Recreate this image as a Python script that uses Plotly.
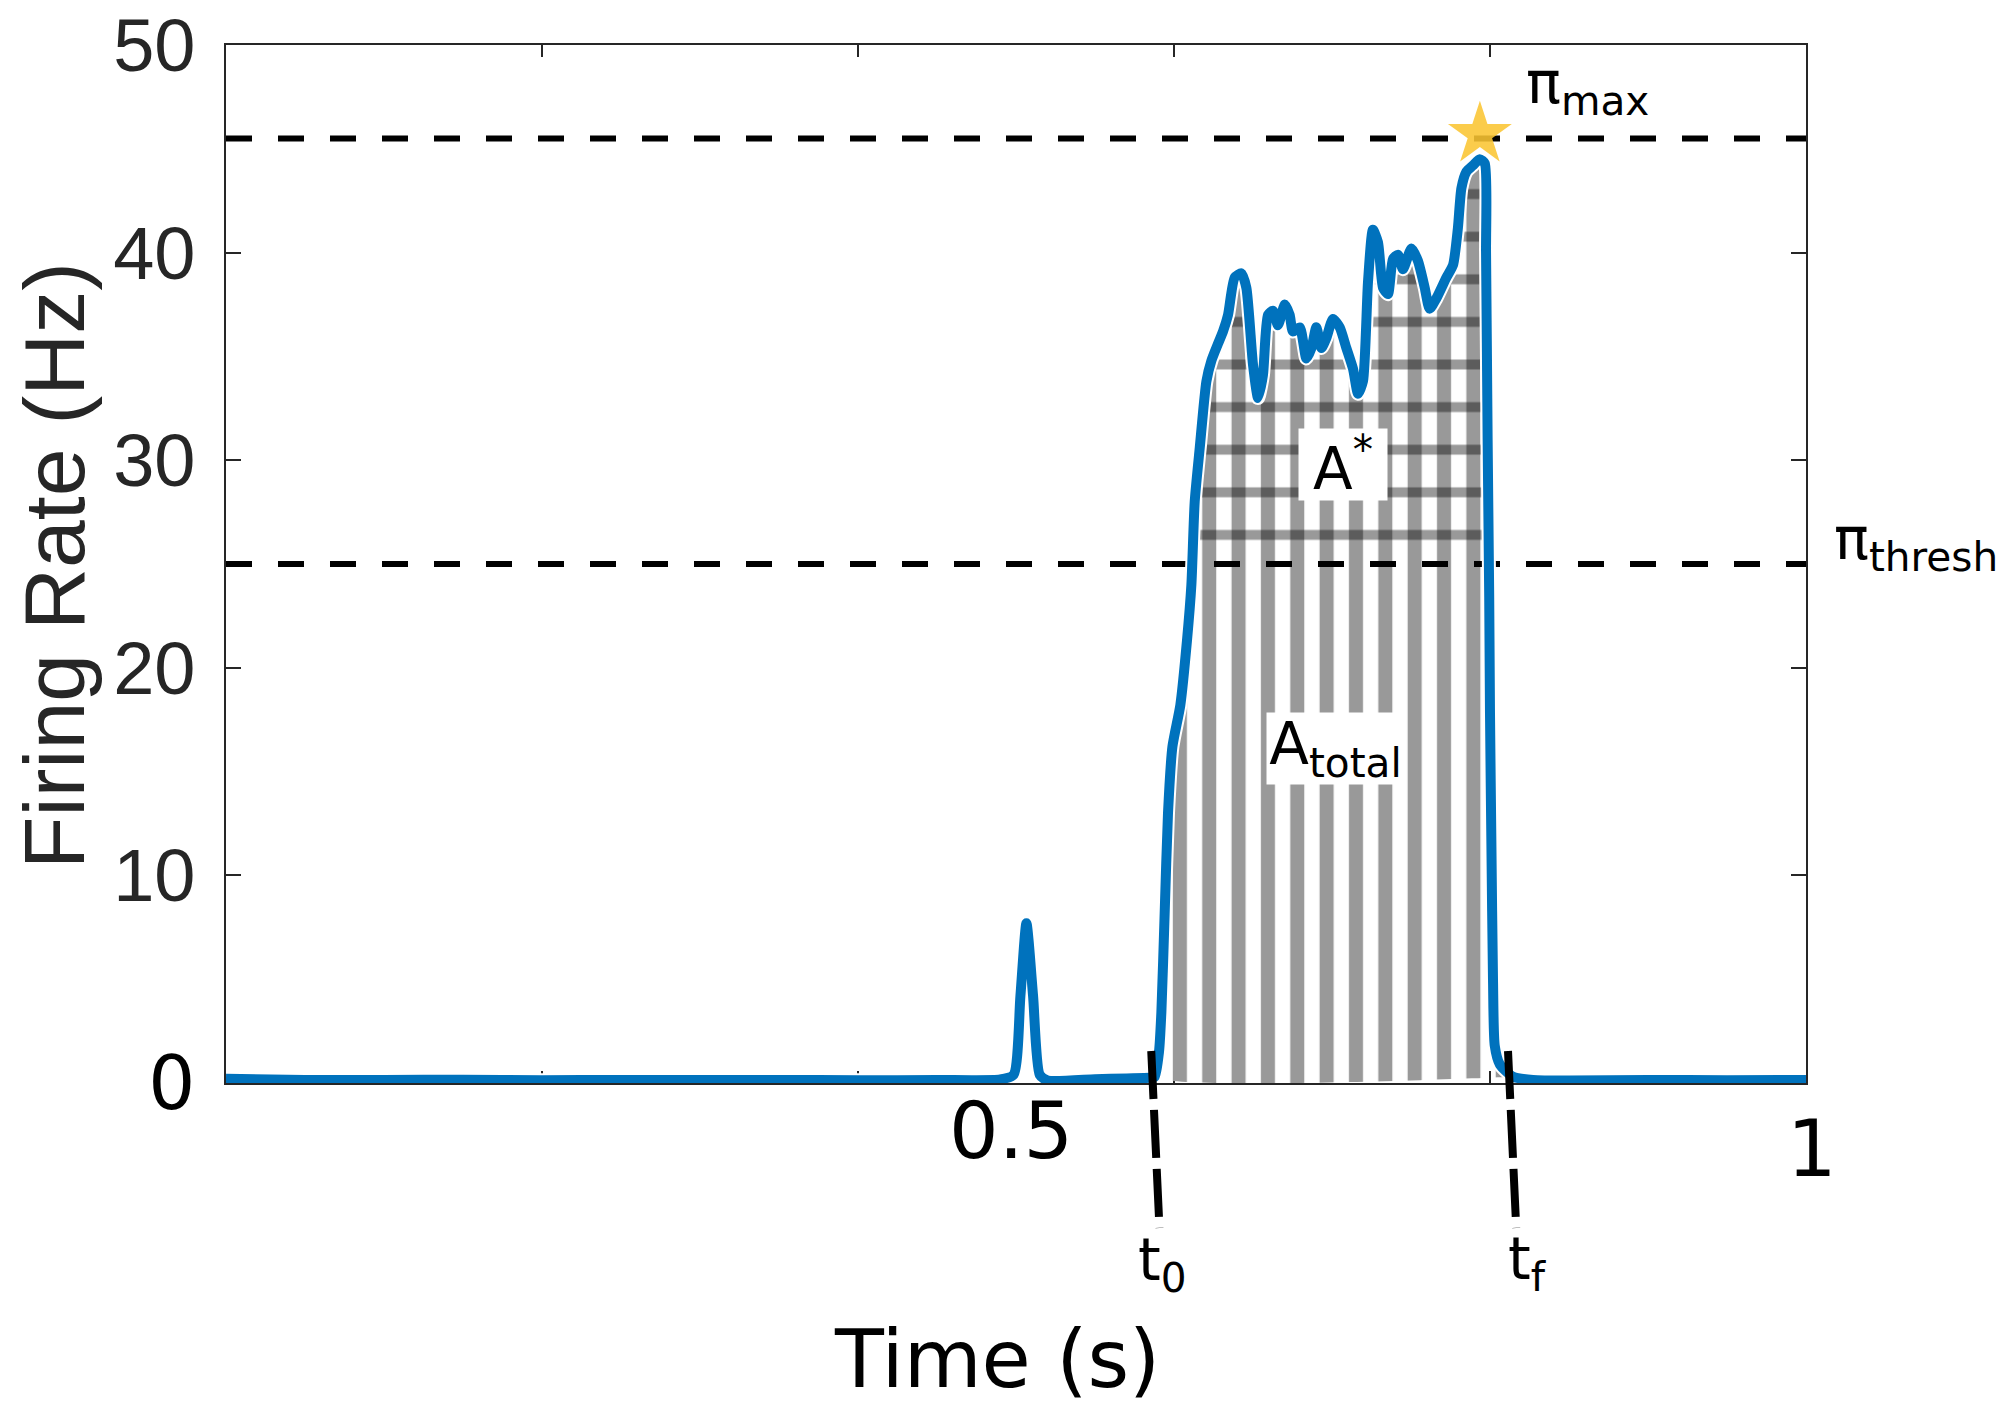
import numpy as np
import plotly.graph_objects as go

# ---------------- data ----------------
time_s = [0.000, 0.050, 0.100, 0.150, 0.200, 0.250, 0.300, 0.350, 0.400, 0.450,
          0.490, 0.4985, 0.5028, 0.5066, 0.5108, 0.5150, 0.5200, 0.5500, 0.5700,
          0.5846, 0.5878, 0.5905, 0.5920, 0.5941, 0.5962, 0.5990, 0.6040, 0.6082,
          0.6110, 0.6131, 0.6163, 0.6205, 0.6237, 0.6278, 0.6310, 0.6342, 0.6384,
          0.6427, 0.6458, 0.6500, 0.6532, 0.6563, 0.6595, 0.6627, 0.6658, 0.6701,
          0.6732, 0.6753, 0.6796, 0.6838, 0.6870, 0.6901, 0.6933, 0.6965, 0.7006,
          0.7049, 0.7091, 0.7133, 0.7165, 0.7196, 0.7228, 0.7259, 0.7291, 0.7323,
          0.7354, 0.7386, 0.7418, 0.7449, 0.7503, 0.7544, 0.7587, 0.7618, 0.7661,
          0.7724, 0.7766, 0.7797, 0.7819, 0.7851, 0.7892, 0.7935, 0.7967, 0.7975,
          0.7985, 0.7995, 0.8000, 0.8009, 0.8019, 0.8030, 0.8062, 0.8146, 0.8272,
          0.850, 0.900, 0.950, 1.000]
rate_hz = [0.20, 0.15, 0.14, 0.16, 0.13, 0.15, 0.14, 0.15, 0.13, 0.15,
           0.17, 0.4, 4.2, 7.7, 4.2, 0.4, 0.12, 0.18, 0.22,
           0.25, 0.3, 1.5, 3.4, 8.2, 13.0, 16.2, 18.2, 21.3,
           24.0, 28.0, 30.6, 33.8, 34.8, 35.6, 36.2, 37.0, 38.8,
           39.0, 38.3, 34.6, 33.0, 34.1, 37.0, 37.2, 36.5, 37.5,
           37.0, 36.2, 36.4, 34.9, 35.4, 36.4, 35.4, 35.9, 36.8,
           36.4, 35.4, 34.4, 33.2, 33.8, 38.6, 41.1, 40.5, 38.3,
           38.0, 39.7, 39.9, 39.2, 40.2, 39.6, 38.3, 37.3, 37.8,
           38.8, 39.4, 41.2, 43.1, 43.9, 44.2, 44.5, 44.3, 40.0,
           31.0, 23.4, 17.8, 11.4, 5.0, 1.8, 0.9, 0.3, 0.15,
           0.12, 0.15, 0.13, 0.15]

pi_max = 45.5
pi_thresh = 25.0
star_t = [0.7936]
star_rate = [45.7]
t_onset = 0.5856
t_offset = 0.8114
fill_start_t = 0.5878
fill_end_t = 0.8146
fill_base_hz = 0.3
a_star_pos = (0.7068, 29.8)
a_total_pos = (0.7020, 16.1)

y_ticks = [0, 10, 20, 30, 40, 50]
y_tick_text = ['<span style="font-family:DejaVu Sans;color:#000000">0</span>',
               "10", "20", "30", "40", "50"]
x_ticks = [0.2, 0.4, 0.6, 0.8]
x_label_text = ["0.5", "1"]

# ---------------- geometry helpers (layout, pixels) ----------------
W, H = 2006, 1415
PL, PR, PT, PB = 226, 1806, 45, 1083


def xp(px):
    return (px - PL) / (PR - PL)


def yp(py):
    return (PB - py) / (PB - PT)


t = np.array(time_s)
r = np.array(rate_hz)

# region under the burst (vertical stripes)
m = (t >= fill_start_t) & (t <= fill_end_t)
vx = list(t[m]) + [fill_end_t, fill_start_t]
vy = list(r[m]) + [fill_base_hz, fill_base_hz]

# region above threshold (horizontal stripes)
burst = (t > 0.58) & (t < 0.83)
tb, rb = t[burst], r[burst]
ipk = int(np.argmax(rb))
t_up = float(np.interp(pi_thresh, rb[:ipk + 1], tb[:ipk + 1]))
t_dn = float(np.interp(pi_thresh, rb[ipk:][::-1], tb[ipk:][::-1]))
above = (t > t_up) & (t < t_dn)
hx = [t_up] + list(t[above]) + [t_dn]
hy = [pi_thresh] + list(r[above]) + [pi_thresh]

SM = 0.6
fig = go.Figure()

fig.add_trace(go.Scatter(
    x=vx, y=vy, fill="toself", mode="none", fillcolor="rgba(0,0,0,0)",
    line=dict(shape="spline", smoothing=SM, width=0),
    fillpattern=dict(shape="|", size=29.35, solidity=0.48, fgcolor="#999999",
                     bgcolor="rgba(0,0,0,0)", fgopacity=1),
    hoverinfo="skip", showlegend=False))

fig.add_trace(go.Scatter(
    x=hx, y=hy, fill="toself", mode="none", fillcolor="rgba(0,0,0,0)",
    line=dict(shape="spline", smoothing=SM, width=0),
    fillpattern=dict(shape="-", size=42.6, solidity=0.23, fgcolor="#000000",
                     bgcolor="rgba(0,0,0,0)", fgopacity=0.4),
    hoverinfo="skip", showlegend=False))

for lvl in (pi_max, pi_thresh):
    fig.add_trace(go.Scatter(
        x=[0, 1], y=[lvl, lvl], mode="lines",
        line=dict(color="#000000", width=6, dash="26px,26px"),
        hoverinfo="skip", showlegend=False))

# white halo + blue firing-rate curve
fig.add_trace(go.Scatter(x=time_s, y=rate_hz, mode="lines",
                         line=dict(color="#ffffff", width=14, shape="spline", smoothing=SM),
                         hoverinfo="skip", showlegend=False))
fig.add_trace(go.Scatter(x=time_s, y=rate_hz, mode="lines",
                         line=dict(color="#0072BD", width=10, shape="spline", smoothing=SM),
                         hoverinfo="skip", showlegend=False))

fig.add_trace(go.Scatter(x=star_t, y=star_rate, mode="markers",
                         marker=dict(symbol="star", size=48,
                                     color="rgba(250,197,50,0.88)",
                                     line=dict(width=0)),
                         hoverinfo="skip", showlegend=False))

# t0 / tf markers (hand-drawn dashed ticks)
shapes = []
for tt in (t_onset, t_offset):
    shapes.append(dict(type="line", xref="x", yref="paper",
                       x0=tt, y0=yp(1051), x1=tt + 0.0052, y1=yp(1228),
                       line=dict(color="#000000", width=8, dash="48px,11px")))

dv = "DejaVu Sans"


def ann(text, x, y, size, family=dv, color="#000000", xref="paper", yref="paper",
        xanchor="center", yanchor="middle", **kw):
    return dict(text=text, x=x, y=y, xref=xref, yref=yref, xanchor=xanchor,
                yanchor=yanchor, showarrow=False,
                font=dict(family=family, size=size, color=color), **kw)


annotations = [
    ann("Firing Rate (Hz)", xp(54), yp(566), 86, family="Liberation Sans",
        color="#262626", textangle=-90),
    ann("Time (s)", xp(997), yp(1360), 80),
    ann(x_label_text[0], xp(1011), yp(1131), 78),
    ann(x_label_text[1], xp(1812), yp(1149), 78),
    ann("t<sub>0</sub>", t_onset + 0.0074, yp(1264), 58, xref="x"),
    ann("t<sub>f</sub>", t_offset + 0.0125, yp(1263), 58, xref="x"),
    ann("π<sub>max</sub>", xp(1524), yp(87), 58, xanchor="left"),
    ann("π<sub>thresh</sub>", xp(1832), yp(543), 58, xanchor="left"),
    ann("A<sup>*</sup>", a_star_pos[0], a_star_pos[1], 58, xref="x", yref="y",
        width=86, height=69, bgcolor="#ffffff"),
    ann("A<sub>total</sub>", a_total_pos[0], a_total_pos[1], 58, xref="x", yref="y",
        width=135, height=69, bgcolor="#ffffff"),
]

axis_common = dict(showline=True, linecolor="#262626", linewidth=1.5,
                   mirror="ticks", ticks="inside", tickcolor="#262626",
                   tickwidth=1.5, showgrid=False, zeroline=False,
                   layer="below traces", automargin=False)

fig.update_layout(
    width=W, height=H,
    margin=dict(l=PL, r=W - PR, t=PT, b=H - PB, pad=0, autoexpand=False),
    paper_bgcolor="#ffffff", plot_bgcolor="#ffffff",
    showlegend=False,
    xaxis=dict(range=[0, 1], tickvals=x_ticks, showticklabels=False,
               ticklen=12, **axis_common),
    yaxis=dict(range=[0, 50], tickvals=y_ticks, ticktext=y_tick_text,
               ticklen=15, ticklabelstandoff=14,
               tickfont=dict(family="Liberation Sans", size=74, color="#262626"),
               **axis_common),
    shapes=shapes,
    annotations=annotations,
)

fig.write_html("out.html", config={"displayModeBar": False},
               post_script="document.body.style.margin='0px';")
